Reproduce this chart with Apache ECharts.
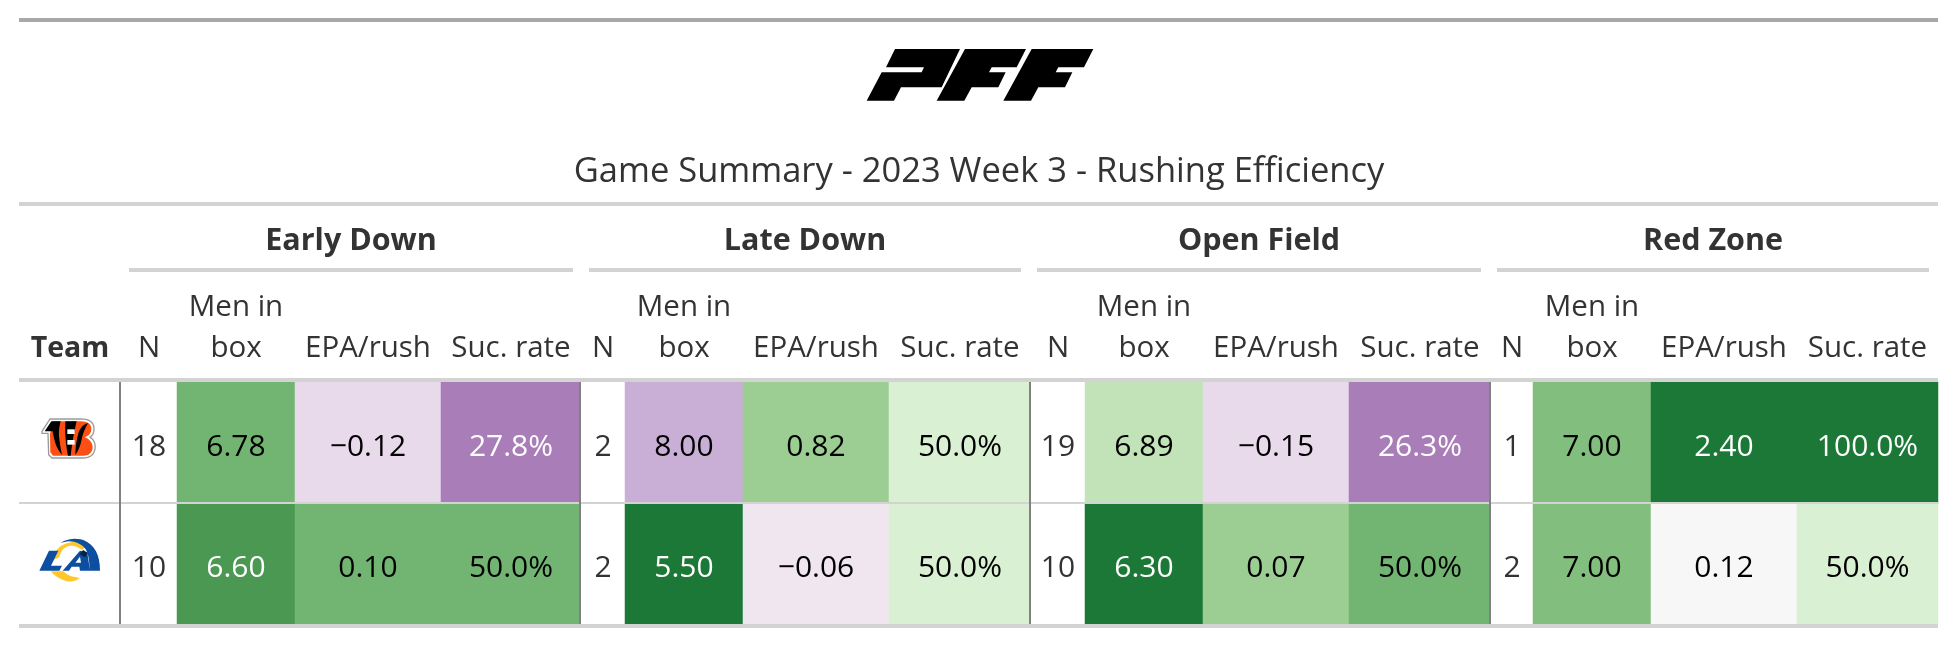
<!DOCTYPE html>
<html>
<head>
<meta charset="utf-8">
<title>Game Summary</title>
<style>html,body{margin:0;padding:0;background:#fff}#chart{width:1958px;height:646px}</style>
<script src="https://cdn.jsdelivr.net/npm/echarts@6/dist/echarts.min.js"></script>
</head>
<body>
<div id="chart"></div>
<script>
// ---- data ----
const chartTitle = 'Game Summary - 2023 Week 3 - Rushing Efficiency';
const teams = ['CIN', 'LA'];
const groups = ['Early Down', 'Late Down', 'Open Field', 'Red Zone'];
const metricLabels = ['N', 'Men in\nbox', 'EPA/rush', 'Suc. rate'];
const nValues = [[18, 10], [2, 2], [19, 10], [1, 2]];
const boxValues = [[6.78, 6.60], [8.00, 5.50], [6.89, 6.30], [7.00, 7.00]];
const epaValues = [[-0.12, 0.10], [0.82, -0.06], [-0.15, 0.07], [2.40, 0.12]];
const sucValues = [[27.8, 50.0], [50.0, 50.0], [26.3, 50.0], [100.0, 50.0]];

// ---- cell fills (per group, per team) ----
const boxFills = [['#72B573', '#4A9852'], ['#C9AFD6', '#1C7837'], ['#C1E3B7', '#1C7837'], ['#82BF7E', '#82BF7E']];
const epaFills = [['#E8D9EB', '#72B573'], ['#9CCE93', '#EFE6F0'], ['#E8D9EB', '#9CCE93'], ['#1C7837', '#F7F7F7']];
const sucFills = [['#A87DB8', '#72B573'], ['#DAF0D3', '#DAF0D3'], ['#A87DB8', '#72B573'], ['#1C7837', '#DAF0D3']];
const lightText = new Set(['#4A9852', '#1C7837', '#A87DB8']);

// ---- layout ----
const FONT = '"Open Sans", "Noto Sans", sans-serif';
const TEXT = '#333333';
const edges = [121, 177, 295, 441, 581, 625, 743, 889, 1031, 1085, 1203, 1349, 1491, 1533, 1651, 1797, 1938];
const TOP = 382, BOTTOM = 624, LEFT = 19, RIGHT = 1938;
const BODY_SIZE = 30, HEAD_SIZE = 29.5;
const spanRules = [[129, 573], [589, 1021], [1037, 1481], [1497, 1929]];

const fmt = {
  n: v => String(v),
  box: v => v.toFixed(2),
  epa: v => v.toFixed(2).replace('-', '\u2212'),
  suc: v => v.toFixed(1) + '%'
};

const grids = [], xAxes = [], yAxes = [], series = [];
function addColumn(gi, mi, values, fills, format) {
  const i = grids.length;
  grids.push({ left: edges[i], width: edges[i + 1] - edges[i], top: TOP, height: BOTTOM - TOP, containLabel: false });
  xAxes.push({
    type: 'category', gridIndex: i, position: 'top', data: [metricLabels[mi]],
    axisLine: { show: false }, axisTick: { show: false }, splitLine: { show: false },
    axisLabel: { interval: 0, margin: 13, color: TEXT, fontFamily: FONT, fontSize: HEAD_SIZE, lineHeight: 41 }
  });
  yAxes.push({
    type: 'category', gridIndex: i, inverse: true, data: teams, show: false
  });
  series.push({
    type: 'heatmap', xAxisIndex: i, yAxisIndex: i, silent: true,
    name: groups[gi] + ' ' + metricLabels[mi],
    data: values.map((v, r) => {
      const fill = fills ? fills[r] : '#FFFFFF';
      return {
        value: [0, r, v],
        itemStyle: { color: fill },
        label: { color: !fills ? TEXT : (lightText.has(fill) ? '#FFFFFF' : '#000000') }
      };
    }),
    label: {
      show: true, fontFamily: FONT, fontSize: BODY_SIZE, offset: [0, 5],
      formatter: p => format(p.value[2])
    },
    emphasis: { disabled: true }
  });
}
groups.forEach((g, gi) => {
  addColumn(gi, 0, nValues[gi], null, fmt.n);
  addColumn(gi, 1, boxValues[gi], boxFills[gi], fmt.box);
  addColumn(gi, 2, epaValues[gi], epaFills[gi], fmt.epa);
  addColumn(gi, 3, sucValues[gi], sucFills[gi], fmt.suc);
});

// ---- rules, header text and logos ----
const rect = (x, y, w, h, fill, z) => ({ type: 'rect', z: z || 10, silent: true, shape: { x, y, width: w, height: h }, style: { fill } });
const headText = (text, x, y, size, weight) => ({
  type: 'text', z: 10, silent: true,
  style: { text, x, y, textAlign: 'center', textVerticalAlign: 'bottom', fill: TEXT, font: `${weight} ${size}px ${FONT}` }
});
const poly = (pts, fill) => ({ type: 'polygon', z: 12, silent: true, shape: { points: pts }, style: { fill } });
// small logo outlines written as M/L/Q commands, flattened to polygons
function outline(d) {
  const nums = d.match(/[MLQZ]|-?[\d.]+/g), pts = [];
  let i = 0, cur = [0, 0];
  while (i < nums.length) {
    const c = nums[i++];
    if (c === 'M' || c === 'L') { cur = [+nums[i++], +nums[i++]]; pts.push(cur); }
    else if (c === 'Q') {
      const a = [+nums[i++], +nums[i++]], b = [+nums[i++], +nums[i++]];
      for (let k = 1; k <= 8; k++) {
        const t = k / 8, u = 1 - t;
        pts.push([u * u * cur[0] + 2 * u * t * a[0] + t * t * b[0], u * u * cur[1] + 2 * u * t * a[1] + t * t * b[1]]);
      }
      cur = b;
    }
  }
  return pts;
}
const path = (d, fill, stroke, lw) => ({ type: 'polygon', z: 12, silent: true, shape: { points: outline(d) }, style: { fill, stroke: stroke || null, lineWidth: lw || 0 } });

const pffLogo = {
  type: 'group', x: 840, y: 30, scaleX: 1 / 3, scaleY: 1 / 3, silent: true,
  children: [
    poly([[165,57],[360,57],[305,172],[183,172],[162,212],[80,212],[125,127],[245,127],[252,112],[138,112]], '#000'),
    poly([[375,57],[558,57],[530,112],[455,112],[447,127],[497,127],[475,172],[395,172],[373,212],[290,212]], '#000'),
    poly([[575,57],[760,57],[732,112],[655,112],[647,127],[697,127],[675,172],[595,172],[573,212],[490,212]], '#000')
  ]
};
const bengalsLogo = {
  type: 'group', x: 38, y: 414, scaleX: 1 / 3, scaleY: 1 / 3, silent: true,
  children: [
    path('M12 52 L36 15 L128 15 Q168 15 168 45 Q168 62 156 70 Q174 80 171 105 Q166 132 135 132 L42 132 L32 122 L30 58 L12 58 Z', '#FFFFFF', '#9A9A9A', 4),
    path('M36 60 L44 22 L128 22 Q160 22 160 45 Q160 62 140 70 Q164 78 164 103 Q160 125 135 125 L45 125 L37 115 Z', '#FB4F14'),
    path('M20 52 L40 22 L68 22 Q60 50 64 75 Q67 100 72 122 Q56 105 50 80 Q46 65 44 52 Z', '#000000'),
    path('M82 22 L116 22 Q104 70 98 125 L90 125 Q80 80 82 22 Z', '#000000'),
    path('M150 28 Q132 30 122 55 Q112 90 112 122 Q125 105 130 80 Q136 50 150 28 Z', '#000000'),
    path('M88 46 L110 46 L110 60 L88 60 Z', '#FFFFFF'),
    path('M88 78 L110 78 L110 92 L88 92 Z', '#FFFFFF')
  ]
};
const ramsLogo = {
  type: 'group', x: 0, y: 360, scaleX: 1 / 3, scaleY: 1 / 3, silent: true,
  children: [
    path('M160 600 Q165 552 218 546 Q240 544 258 560 L246 570 Q226 554 206 558 Q182 566 178 592 Z', '#FFC72C'),
    path('M153 634 L190 634 Q205 650 240 654 Q215 672 190 660 Q165 650 153 634 Z', '#FFC72C'),
    path('M182 548 Q215 530 250 540 Q300 560 300 632 L268 632 Q270 590 256 566 Q238 544 205 544 Z', '#0C4FA0'),
    poly([[147,572],[175,572],[153,617],[186,617],[178,632],[118,632]], '#0C4FA0'),
    poly([[240,572],[262,577],[270,632],[240,632],[238,620],[215,620],[207,632],[188,632]], '#0C4FA0'),
    poly([[226,608],[243,608],[240,590]], '#FFFFFF'),
    poly([[238,582],[250,570],[263,580],[255,592]], '#002244')
  ]
};

const graphics = [
  rect(LEFT, 18, RIGHT - LEFT, 4, '#A8A8A8'),
  rect(LEFT, 202, RIGHT - LEFT, 4, '#D3D3D3'),
  rect(LEFT, 378, RIGHT - LEFT, 4, '#D3D3D3'),
  rect(LEFT, 502, RIGHT - LEFT, 2, '#D3D3D3'),
  rect(LEFT, 624, RIGHT - LEFT, 4, '#D3D3D3'),
  rect(119, TOP, 2, BOTTOM - TOP, '#808080', 11),
  rect(579, TOP, 2, BOTTOM - TOP, '#808080', 11),
  rect(1029, TOP, 2, BOTTOM - TOP, '#808080', 11),
  rect(1489, TOP, 2, BOTTOM - TOP, '#808080', 11),
  headText('Team', 70, 363.5, 28.5, 'bold'),
  pffLogo, bengalsLogo, ramsLogo
];
groups.forEach((g, i) => {
  const [a, b] = spanRules[i];
  graphics.push(rect(a, 268, b - a, 4, '#D3D3D3'));
  graphics.push(headText(g, (a + b) / 2, 257, 30.5, 'bold'));
});

const chart = echarts.init(document.getElementById('chart'), null, { renderer: 'canvas' });
chart.setOption({
  animation: false,
  backgroundColor: '#FFFFFF',
  title: {
    text: chartTitle, left: 'center', top: 149.5,
    textStyle: { color: TEXT, fontFamily: FONT, fontSize: 34.5, fontWeight: 'normal' }
  },
  grid: grids, xAxis: xAxes, yAxis: yAxes, series,
  graphic: { elements: graphics }
});
</script>
</body>
</html>
